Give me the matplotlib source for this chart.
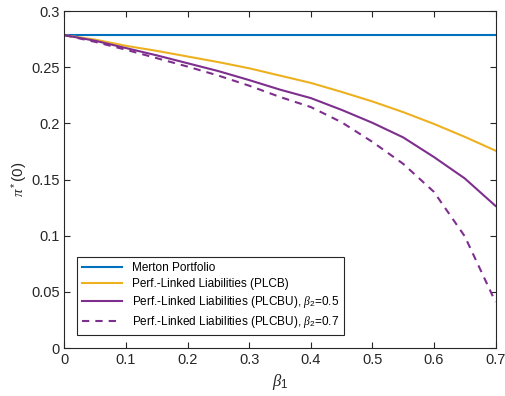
import numpy as np
import matplotlib
matplotlib.use("Agg")
import matplotlib.pyplot as plt

plt.rcParams['font.family'] = ['Liberation Sans', 'DejaVu Sans']
plt.rcParams['mathtext.fontset'] = 'custom'
plt.rcParams['mathtext.it'] = 'Liberation Serif:italic'
plt.rcParams['mathtext.rm'] = 'Liberation Sans'

# beta_1 grid and pi*(0) values
beta1 = [0.0, 0.05, 0.1, 0.15, 0.2, 0.25, 0.3, 0.35, 0.4, 0.45, 0.5, 0.55, 0.6, 0.65, 0.7]
merton = [0.2785] * len(beta1)
plcb = [0.2785, 0.2745, 0.2690, 0.2645, 0.2595, 0.2545, 0.249, 0.2425, 0.236, 0.228,
        0.2195, 0.210, 0.1995, 0.188, 0.1757]
plcbu_05 = [0.2785, 0.2735, 0.2670, 0.2605, 0.2535, 0.2465, 0.2385, 0.230, 0.2225, 0.212,
            0.2005, 0.1875, 0.170, 0.151, 0.1265]
plcbu_07 = [0.2785, 0.2725, 0.2655, 0.258, 0.2505, 0.2425, 0.2335, 0.2235, 0.2145, 0.201,
            0.1835, 0.164, 0.139, 0.0995, 0.041]

fig = plt.figure(figsize=(5.05, 3.96), dpi=100)
ax = fig.add_axes([0.1277, 0.1212, 0.8535, 0.851])

ax.plot(beta1, merton, color='#0072BD', lw=1.5, label='Merton Portfolio')
ax.plot(beta1, plcb, color='#EDB120', lw=1.5, label='Perf.-Linked Liabilities (PLCB)')
ax.plot(beta1, plcbu_05, color='#7E2F8E', lw=1.5,
        label=r'Perf.-Linked Liabilities (PLCBU), $\beta_2$=0.5')
ax.plot(beta1, plcbu_07, color='#7E2F8E', lw=1.5, dashes=(3.5, 2.9),
        label=r'Perf.-Linked Liabilities (PLCBU), $\beta_2$=0.7')

ax.set_xlim(0, 0.7)
ax.set_ylim(0, 0.3)
ax.set_xticks(np.arange(0, 0.71, 0.1))
ax.set_xticklabels(['0', '0.1', '0.2', '0.3', '0.4', '0.5', '0.6', '0.7'])
ax.set_yticks(np.arange(0, 0.301, 0.05))
ax.set_yticklabels(['0', '0.05', '0.1', '0.15', '0.2', '0.25', '0.3'])

for s in ax.spines.values():
    s.set_color('#262626')
    s.set_linewidth(0.8)
ax.tick_params(direction='in', top=True, right=True, length=4, width=0.8,
               colors='#262626', labelsize=10.5)

ax.set_xlabel(r'$\beta_1$', fontsize=12, color='#262626')
ax.set_ylabel(r'$\pi^*$(0)', fontsize=11, color='#262626')
ax.yaxis.set_label_coords(-0.08, 0.5)

leg = ax.legend(loc='lower left', bbox_to_anchor=(0.0297, 0.0386), borderaxespad=0,
                fontsize=8.5, handlelength=3.4, fancybox=False, framealpha=1,
                edgecolor='#262626', labelspacing=0.35)
leg.get_frame().set_linewidth(0.8)

fig.savefig('out.png', dpi=100)
